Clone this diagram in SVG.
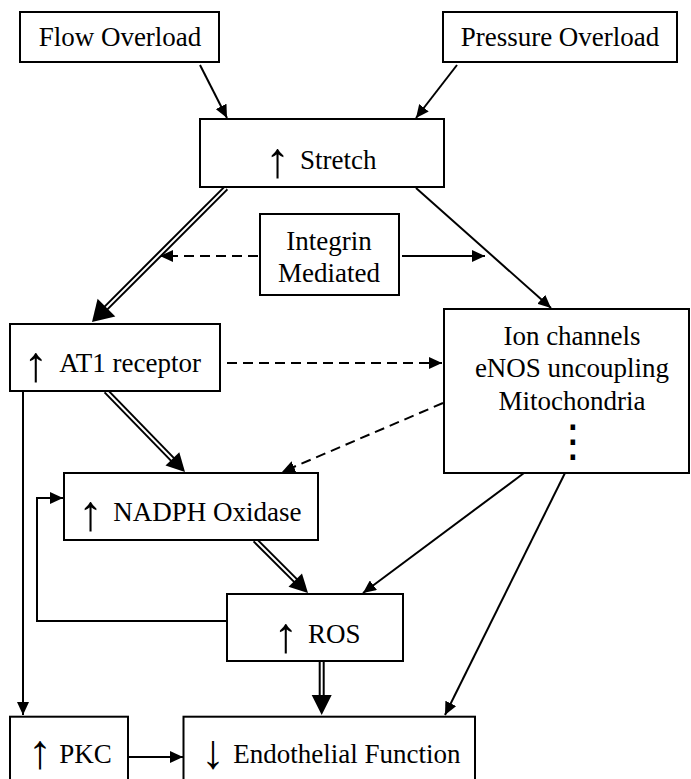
<svg xmlns="http://www.w3.org/2000/svg" width="691" height="779" viewBox="0 0 691 779">
<style>
.box{fill:#fff;stroke:#000;stroke-width:2}
.t{font-family:"Liberation Serif","Times New Roman",serif;font-size:27px;fill:#000;text-anchor:middle}
.w{font-family:"Liberation Serif","Times New Roman",serif;font-size:27px;fill:#000;text-anchor:start}
.ar{font-family:"Liberation Serif","Times New Roman",serif;font-size:50px;fill:#000;text-anchor:middle}
.a{fill:none;stroke:#000;stroke-width:2;marker-end:url(#ah)}
.d{fill:none;stroke:#000;stroke-width:2;stroke-dasharray:10 6;marker-end:url(#ah)}
.dbo{fill:none;stroke:#000;stroke-width:6}
.dbi{fill:none;stroke:#fff;stroke-width:2}
.hd{fill:#000}
</style>
<defs>
<marker id="ah" markerUnits="userSpaceOnUse" markerWidth="14" markerHeight="12" refX="13" refY="6" orient="auto">
<path d="M0,0 L13,6 L0,12 z" fill="#000"/>
</marker>
</defs>
<g id="connectors">
<line class="a" x1="200" y1="65" x2="227" y2="118"/>
<line class="a" x1="457" y1="65" x2="416" y2="118"/>
<line class="a" x1="416" y1="188" x2="551" y2="308"/>
<line class="a" x1="402" y1="256" x2="485" y2="256"/>
<line class="d" x1="258" y1="256" x2="160" y2="256"/>
<line class="d" x1="227" y1="363" x2="442" y2="363"/>
<line class="d" x1="443" y1="403" x2="282" y2="472"/>
<polyline class="a" points="227,621 37,621 37,498 63,498"/>
<line class="a" x1="23" y1="391" x2="23" y2="715"/>
<line class="a" x1="524" y1="473" x2="363" y2="593"/>
<line class="a" x1="565" y1="473" x2="445" y2="715"/>
<line class="a" x1="128" y1="757" x2="183" y2="757"/>
<line class="dbo" x1="226" y1="188" x2="103" y2="311"/>
<line class="dbi" x1="226" y1="188" x2="103" y2="311"/>
<polygon class="hd" points="92,322 97.6,298.7 115.3,316.4"/>
<line class="dbo" x1="106" y1="391" x2="175" y2="462"/>
<line class="dbi" x1="106" y1="391" x2="175" y2="462"/>
<polygon class="hd" points="185,472 165.5,465.6 179.3,452.2"/>
<line class="dbo" x1="255" y1="540" x2="298" y2="583"/>
<line class="dbi" x1="255" y1="540" x2="298" y2="583"/>
<polygon class="hd" points="308,593 288.5,586.7 302,573.4"/>
<line class="dbo" x1="321.7" y1="661" x2="321.7" y2="698"/>
<line class="dbi" x1="321.7" y1="661" x2="321.7" y2="698"/>
<polygon class="hd" points="321.7,715 311.7,695 331.7,695"/>
</g>
<g id="flow"><rect class="box" x="20" y="12" width="199" height="50"/><text class="t" x="120" y="46">Flow Overload</text></g>
<g id="pressure"><rect class="box" x="443" y="12" width="234" height="50"/><text class="t" x="560" y="46">Pressure Overload</text></g>
<g id="stretch"><rect class="box" x="200" y="119" width="244" height="68"/><text class="ar" x="277.7" y="177">↑</text><text class="w" x="300" y="169">Stretch</text></g>
<g id="integrin"><rect class="box" x="260" y="214" width="139" height="81"/><text class="t" x="329" y="250">Integrin</text><text class="t" x="329" y="282">Mediated</text></g>
<g id="at1"><rect class="box" x="10" y="324" width="210" height="67"/><text class="ar" x="36" y="381">↑</text><text class="w" x="59.3" y="371.7">AT1 receptor</text></g>
<g id="ion"><rect class="box" x="444" y="309" width="245" height="164"/><text class="t" x="572" y="345">Ion channels</text><text class="t" x="572" y="377">eNOS uncoupling</text><text class="t" x="572" y="410">Mitochondria</text><text class="t" x="573" y="456" style="font-family:'DejaVu Sans',sans-serif;font-size:44px">⋮</text></g>
<g id="nadph"><rect class="box" x="64" y="473" width="254" height="67"/><text class="ar" x="90.7" y="530.3">↑</text><text class="w" x="113.3" y="520.7">NADPH Oxidase</text></g>
<g id="ros"><rect class="box" x="227" y="594" width="176" height="67"/><text class="ar" x="286" y="651.7">↑</text><text class="w" x="308" y="642.7">ROS</text></g>
<g id="pkc"><rect class="box" x="10" y="716.7" width="118" height="80"/><text class="ar" x="40" y="768" style="font-size:48px">↑</text><text class="w" x="59.3" y="763">PKC</text></g>
<g id="endo"><rect class="box" x="183.5" y="716.7" width="291.5" height="80"/><text class="ar" x="213" y="768" style="font-size:48px">↓</text><text class="w" x="233.3" y="763">Endothelial Function</text></g>
</svg>
